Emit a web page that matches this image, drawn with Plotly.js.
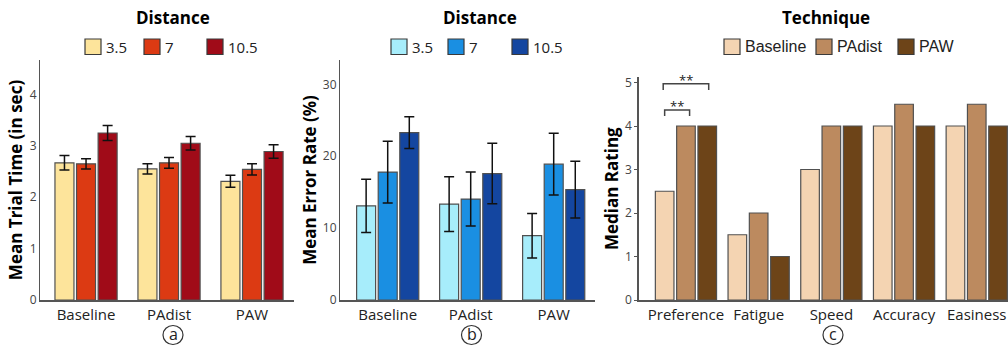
<!DOCTYPE html>
<html>
<head>
<meta charset="utf-8">
<script src="https://cdn.plot.ly/plotly-3.0.1.min.js"></script>
<style>html,body{margin:0;padding:0;background:#fff;}#chart{width:1008px;height:350px;}</style>
</head>
<body>
<div id="chart"></div>
<script>
// ---- Data ----
const techniques = ['Baseline', 'PAdist', 'PAW'];
const distances = ['3.5', '7', '10.5'];

// (a) Mean trial time (sec) per technique, for each distance
const time_d35 = [2.67, 2.55, 2.31];
const time_d7 = [2.65, 2.67, 2.54];
const time_d105 = [3.25, 3.05, 2.89];
const timeErr_d35 = [0.14, 0.10, 0.115];
const timeErr_d7 = [0.10, 0.105, 0.11];
const timeErr_d105 = [0.145, 0.13, 0.13];

// (b) Mean error rate (%) per technique, for each distance
const err_d35 = [13.1, 13.35, 8.95];
const err_d7 = [17.8, 14.05, 18.9];
const err_d105 = [23.3, 17.6, 15.35];
const errErr_d35 = [3.7, 3.8, 3.1];
const errErr_d7 = [4.3, 3.75, 4.3];
const errErr_d105 = [2.2, 4.2, 3.95];

// (c) Median rating per question, for each technique
const questions = ['Preference', 'Fatigue', 'Speed', 'Accuracy', 'Easiness'];
const rating_baseline = [2.5, 1.5, 3, 4, 4];
const rating_padist = [4, 2, 4, 4.5, 4.5];
const rating_paw = [4, 1, 4, 4, 4];

// tick labels
const timeTicks = [0, 1, 2, 3, 4];
const errTicks = [0, 10, 20, 30];
const ratingTicks = [0, 1, 2, 3, 4, 5];

// ---- Styles ----
const colA = ['#FDE49B', '#DC3A13', '#A00B18'];
const colB = ['#A7EDFB', '#1A8FE2', '#1446A0'];
const colC = ['#F4D4B2', '#BC8A5F', '#6D4418'];
const FONT = 'Open Sans, sans-serif';
const W = 1008, H = 350;
const px = v => v / W;
const py = v => 1 - v / H;

// bar geometry (category units)
const wAB = 0.229, stepAB = 0.26;
const offAB = [-wAB / 2 - stepAB, -wAB / 2, -wAB / 2 + stepAB];
const wC = 0.256, stepC = 0.293;
const offC = [-wC / 2 - stepC, -wC / 2, -wC / 2 + stepC];
const barLine = {color: '#505050', width: 1.2};

const traces = [];
const aVals = [time_d35, time_d7, time_d105];
const aErrs = [timeErr_d35, timeErr_d7, timeErr_d105];
const bVals = [err_d35, err_d7, err_d105];
const bErrs = [errErr_d35, errErr_d7, errErr_d105];
distances.forEach((d, i) => {
  traces.push({
    type: 'bar', x: techniques, y: aVals[i], name: d, showlegend: false,
    xaxis: 'x', yaxis: 'y', width: wAB, offset: offAB[i],
    marker: {color: colA[i], line: barLine},
    error_y: {type: 'data', array: aErrs[i], visible: true, color: '#111', thickness: 1.5, width: 5},
    hoverinfo: 'skip'
  });
});
distances.forEach((d, i) => {
  traces.push({
    type: 'bar', x: techniques, y: bVals[i], name: d, showlegend: false,
    xaxis: 'x2', yaxis: 'y2', width: wAB, offset: offAB[i],
    marker: {color: colB[i], line: barLine},
    error_y: {type: 'data', array: bErrs[i], visible: true, color: '#111', thickness: 1.5, width: 5},
    hoverinfo: 'skip'
  });
});
const cVals = [rating_baseline, rating_padist, rating_paw];
techniques.forEach((t, i) => {
  traces.push({
    type: 'bar', x: questions, y: cVals[i], name: t, showlegend: false,
    xaxis: 'x3', yaxis: 'y3', width: wC, offset: offC[i],
    marker: {color: colC[i], line: barLine},
    hoverinfo: 'skip'
  });
});

const yTitleFont = {family: FONT, size: 17, color: '#000', weight: 'bold'};
const xTickFont = {family: FONT, size: 15, color: '#222'};
const yTickFont = {family: FONT, size: 12, color: '#444'};

function xax(domain, range, anchor) {
  return {
    domain: domain, range: range, type: 'category', showgrid: false, zeroline: false,
    showline: true, linecolor: '#555', linewidth: 1.5, ticks: '', tickfont: xTickFont,
    anchor: anchor, fixedrange: true
  };
}
function yax(domain, range, tickvals, titleText, anchor, withTicks) {
  return {
    domain: domain, range: range, tickvals: tickvals, showgrid: false, zeroline: false,
    showline: true, linecolor: '#555', linewidth: 1.5,
    ticks: withTicks ? 'outside' : '', ticklen: 3, tickcolor: '#555', tickfont: yTickFont,
    title: {text: titleText, font: yTitleFont, standoff: 2}, anchor: anchor, fixedrange: true
  };
}

const shapes = [];
const annotations = [];

// significance brackets in panel (c)
const cBaseC = offC[0] + wC / 2, cPadC = offC[1] + wC / 2, cPawC = offC[2] + wC / 2;
const brackets = [
  {from: cBaseC - 0.02, to: cPawC + 0.02, top: 4.97, drop: 0.14, label: '**'},
  {from: cBaseC, to: cPadC + 0.05, top: 4.37, drop: 0.14, label: '**'}
];
brackets.forEach(b => {
  shapes.push({
    type: 'path', xref: 'x3', yref: 'y3',
    path: `M ${b.from},${b.top - b.drop} L ${b.from},${b.top} L ${b.to},${b.top} L ${b.to},${b.top - b.drop}`,
    line: {color: '#444', width: 1.5}
  });
  annotations.push({
    xref: 'x3', yref: 'y3', x: (b.from + b.to) / 2, y: b.top + 0.08, yanchor: 'middle',
    text: b.label, showarrow: false, font: {family: FONT, size: 13, color: '#222'}
  });
});

// circled panel letters
const letters = [{t: 'a', x: 173}, {t: 'b', x: 471.5}, {t: 'c', x: 833}];
letters.forEach(l => {
  shapes.push({
    type: 'circle', xref: 'paper', yref: 'paper', xsizemode: 'pixel', ysizemode: 'pixel',
    xanchor: px(l.x), yanchor: py(335), x0: -10, x1: 10, y0: -9.5, y1: 9.5,
    line: {color: '#333', width: 1.2}
  });
  annotations.push({
    xref: 'paper', yref: 'paper', x: px(l.x), y: py(334), xanchor: 'center', yanchor: 'middle',
    text: l.t, showarrow: false, font: {family: FONT, size: 16, color: '#222'}
  });
});

// legends drawn as swatches + labels
function addLegend(titleText, titleX, labels, colors, swatchLefts, labelFont) {
  annotations.push({
    xref: 'paper', yref: 'paper', x: px(titleX), y: py(18), xanchor: 'center', yanchor: 'middle',
    text: '<b>' + titleText + '</b>', showarrow: false,
    font: {family: FONT, size: 17, color: '#000'}
  });
  labels.forEach((lab, i) => {
    const x0 = swatchLefts[i];
    shapes.push({
      type: 'rect', xref: 'paper', yref: 'paper',
      x0: px(x0), x1: px(x0 + 16), y0: py(54.5), y1: py(39),
      fillcolor: colors[i], line: {color: '#3a3a3a', width: 1.2}
    });
    annotations.push({
      xref: 'paper', yref: 'paper', x: px(x0 + 19), y: py(46.5), xanchor: 'left', yanchor: 'middle',
      text: lab, showarrow: false, font: labelFont
    });
  });
}
addLegend('Distance', 173, distances, colA, [85, 144, 207], {family: FONT, size: 15, color: '#222'});
addLegend('Distance', 480, distances, colB, [391, 448, 512], {family: FONT, size: 15, color: '#222'});
addLegend('Technique', 826, techniques, colC, [724, 816, 898],
  {family: 'Liberation Sans, Arial, sans-serif', size: 16, color: '#222'});

const layout = {
  width: W, height: H, margin: {l: 0, r: 0, t: 0, b: 0},
  paper_bgcolor: '#fff', plot_bgcolor: '#fff', showlegend: false,
  font: {family: FONT},
  xaxis: xax([px(40.4), px(293.5)], [-0.55, 2.5], 'y'),
  yaxis: yax([py(300), py(60)], [0, 4.67], timeTicks, 'Mean Trial Time (in sec)', 'x', false),
  xaxis2: xax([px(340.4), px(595.2)], [-0.57, 2.5], 'y2'),
  yaxis2: yax([py(300), py(60)], [0, 33.4], errTicks, 'Mean Error Rate (%)', 'x2', false),
  xaxis3: xax([px(638.7), 1], [-0.65, 4.43], 'y3'),
  yaxis3: yax([py(300), py(77.3)], [0, 5.12], ratingTicks, 'Median Rating', 'x3', true),
  barmode: 'overlay',
  shapes: shapes,
  annotations: annotations
};

Plotly.newPlot('chart', traces, layout, {displayModeBar: false, staticPlot: true});
</script>
</body>
</html>
